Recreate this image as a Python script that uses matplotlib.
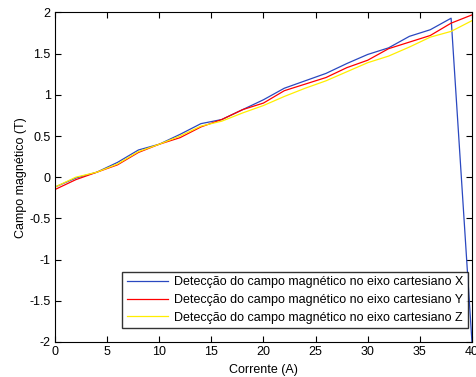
import numpy as np
import matplotlib
matplotlib.use("Agg")
import matplotlib.pyplot as plt

plt.rcParams['font.family'] = ['Liberation Sans', 'DejaVu Sans']

# data
corrente = [0, 2, 4, 6, 8, 10, 12, 14, 16, 18, 20, 22, 24, 26, 28, 30, 32, 34, 36, 38, 40]
campo_x = [-0.12, -0.01, 0.06, 0.18, 0.33, 0.40, 0.52, 0.65, 0.70, 0.82, 0.94, 1.08, 1.17, 1.26,
           1.38, 1.49, 1.57, 1.71, 1.79, 1.93, -2.0]
campo_y = [-0.15, -0.03, 0.06, 0.15, 0.30, 0.40, 0.48, 0.61, 0.70, 0.82, 0.90, 1.05, 1.13, 1.21,
           1.33, 1.42, 1.56, 1.64, 1.72, 1.87, 1.97]
campo_z = [-0.12, 0.00, 0.06, 0.16, 0.31, 0.40, 0.50, 0.62, 0.68, 0.78, 0.87, 0.98, 1.08, 1.17,
           1.28, 1.39, 1.47, 1.58, 1.70, 1.77, 1.90]

labels = ['Detecção do campo magnético no eixo cartesiano X',
          'Detecção do campo magnético no eixo cartesiano Y',
          'Detecção do campo magnético no eixo cartesiano Z']

fig = plt.figure(figsize=(4.76, 3.77), dpi=100)
ax = fig.add_axes([0.1155, 0.093, 0.876, 0.874])

ax.plot(corrente, campo_x, color='#2a48c0', lw=0.9, label=labels[0])
ax.plot(corrente, campo_y, color='#ff0000', lw=0.9, label=labels[1])
ax.plot(corrente, campo_z, color='#ffee00', lw=0.9, label=labels[2])

ax.set_xlim(0, 40)
ax.set_ylim(-2, 2)
ax.set_xticks(np.arange(0, 41, 5))
ax.set_yticks(np.arange(-2, 2.01, 0.5))
ax.set_yticklabels(['-2', '-1.5', '-1', '-0.5', '0', '0.5', '1', '1.5', '2'])
ax.tick_params(direction='in', top=True, right=True, labelsize=9, length=4, width=0.8, pad=3)
for s in ax.spines.values():
    s.set_linewidth(0.8)

ax.set_xlabel('Corrente (A)', fontsize=9, labelpad=4)
ax.set_ylabel('Campo magnético (T)', fontsize=9, labelpad=2)

leg = ax.legend(loc='lower right', bbox_to_anchor=(468 / 476, 1 - 328 / 377),
                bbox_transform=fig.transFigure, borderaxespad=0,
                fontsize=9, frameon=True, fancybox=False,
                edgecolor='black', handlelength=3.3, borderpad=0.35, labelspacing=0.45,
                handletextpad=0.5)
leg.get_frame().set_linewidth(1.0)

fig.savefig('out.png', dpi=100)
